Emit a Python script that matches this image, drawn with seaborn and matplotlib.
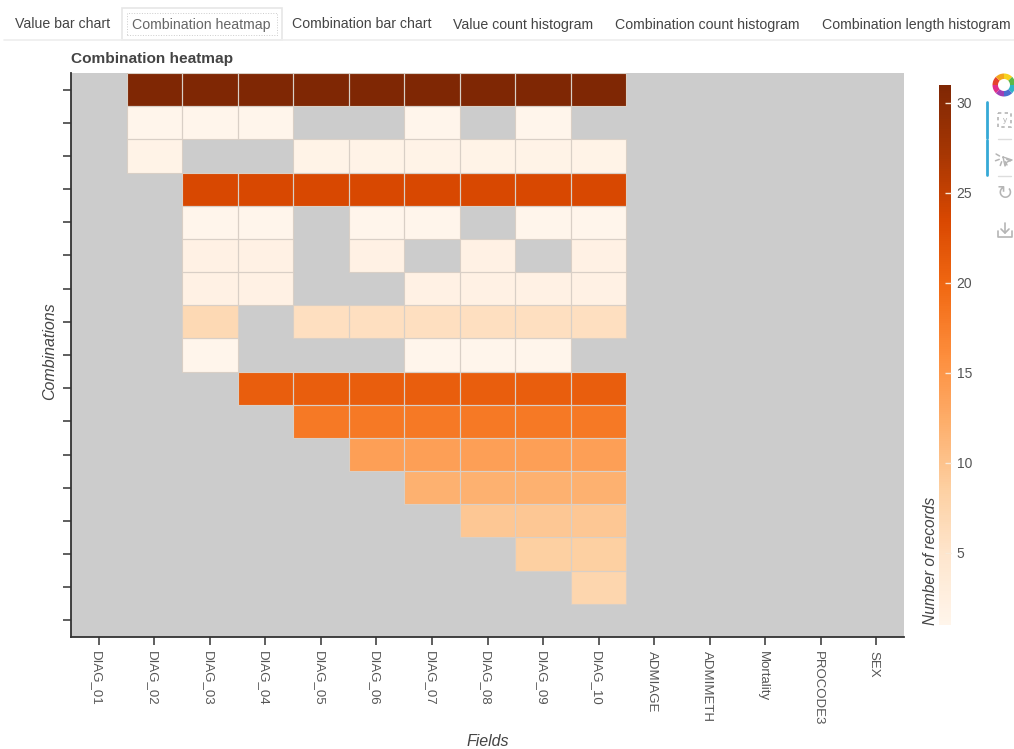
import numpy as np
import pandas as pd
import matplotlib
matplotlib.use('Agg')
import matplotlib.pyplot as plt
from matplotlib.patches import Rectangle, Wedge
from matplotlib.transforms import ScaledTranslation
import seaborn as sns

sns.set_theme(style='white')
plt.rcParams['font.family'] = ['Liberation Sans', 'DejaVu Sans']

# Tabs above the chart
tab_names = ['Value bar chart', 'Combination heatmap', 'Combination bar chart',
             'Value count histogram', 'Combination count histogram', 'Combination length histogram']
tab_x = [15, 132, 292, 453, 615, 822]

fields = ['DIAG_01', 'DIAG_02', 'DIAG_03', 'DIAG_04', 'DIAG_05', 'DIAG_06', 'DIAG_07', 'DIAG_08',
          'DIAG_09', 'DIAG_10', 'ADMIAGE', 'ADMIMETH', 'Mortality', 'PROCODE3', 'SEX']
n = np.nan

# Number of records per combination, one row per combination
row_00 = [n, 31, 31, 31, 31, 31, 31, 31, 31, 31, n, n, n, n, n]
row_01 = [n, 1, 1, 1, n, n, 1, n, 1, n, n, n, n, n, n]
row_02 = [n, 1.5, n, n, 1.5, 1.5, 1.5, 1.5, 1.5, 1.5, n, n, n, n, n]
row_03 = [n, n, 23.5, 23.5, 23.5, 23.5, 23.5, 23.5, 23.5, 23.5, n, n, n, n, n]
row_04 = [n, n, 1, 1, n, 1, 1, n, 1, 1, n, n, n, n, n]
row_05 = [n, n, 2, 2, n, 2, n, 2, n, 2, n, n, n, n, n]
row_06 = [n, n, 2, 2, n, n, 2, 2, 2, 2, n, n, n, n, n]
row_07 = [n, n, 7, n, 6, 6, 6, 6, 6, 6, n, n, n, n, n]
row_08 = [n, n, 1, n, n, n, 1, 1, 1, n, n, n, n, n, n]
row_09 = [n, n, n, 21, 21, 21, 21, 21, 21, 21, n, n, n, n, n]
row_10 = [n, n, n, n, 18, 18, 18, 18, 18, 18, n, n, n, n, n]
row_11 = [n, n, n, n, n, 14, 14, 14, 14, 14, n, n, n, n, n]
row_12 = [n, n, n, n, n, n, 12, 12, 12, 12, n, n, n, n, n]
row_13 = [n, n, n, n, n, n, n, 9.5, 9.5, 9.5, n, n, n, n, n]
row_14 = [n, n, n, n, n, n, n, n, 8.5, 8.5, n, n, n, n, n]
row_15 = [n, n, n, n, n, n, n, n, n, 7.5, n, n, n, n, n]
row_16 = [n] * 15

cbar_ticks = [5, 10, 15, 20, 25, 30]

combos = pd.DataFrame([row_00, row_01, row_02, row_03, row_04, row_05, row_06, row_07, row_08,
                       row_09, row_10, row_11, row_12, row_13, row_14, row_15, row_16],
                      columns=fields)

W, H = 1014, 749
fig = plt.figure(figsize=(W / 100, H / 100), dpi=100)


def box(x0, y0, x1, y1):
    # pixel box (y down) to figure fractions
    return [x0 / W, 1 - y1 / H, (x1 - x0) / W, (y1 - y0) / H]


ax = fig.add_axes(box(71, 73, 904, 637))
cax = fig.add_axes(box(939, 85, 951, 625))

ax.set_facecolor('#cccccc')
sns.heatmap(combos, ax=ax, cbar_ax=cax, cmap='Oranges', vmin=1, vmax=31,
            linewidths=0, mask=combos.isna(), cbar_kws={'ticks': cbar_ticks})

# cell outlines only on cells that hold a value
rows, cols = np.where(combos.notna().values)
for r, c in zip(rows, cols):
    ax.add_patch(Rectangle((c, r), 1, 1, fc='none', ec='#d9cfc6', lw=0.8))

ax.set_axisbelow(False)
cax.set_axisbelow(False)
ax.set_xticks(np.arange(15) + 0.5)
ax.set_xticklabels(fields, rotation=-90, fontsize=9.5, color='#555555')
ax.set_yticks(np.arange(17) + 0.5)
ax.set_yticklabels([])
ax.tick_params(axis='x', bottom=True, length=5.8, width=1.1, color='#333333', pad=4, direction='out')
ax.tick_params(axis='y', left=True, length=5.8, width=1.1, color='#333333', direction='out')
# has to come after tick_params, which resets the label transform
shift = ScaledTranslation(-2.5 / 100, 0, fig.dpi_scale_trans)
for lab in ax.get_xticklabels():
    lab.set_transform(lab.get_transform() + shift)
ax.set_xlabel('Fields', fontsize=11.5, style='italic', color='#444444')
ax.xaxis.set_label_coords(0.5, -(742 - 637) / 564)
ax.xaxis.label.set_verticalalignment('center')
ax.set_ylabel('Combinations', fontsize=11.5, style='italic', color='#444444')
ax.yaxis.set_label_coords((50 - 71) / 833, 0.506)
ax.yaxis.label.set_verticalalignment('center')
for side in ['top', 'right']:
    ax.spines[side].set_visible(False)
for side in ['left', 'bottom']:
    ax.spines[side].set_visible(True)
    ax.spines[side].set_color('#333333')
    ax.spines[side].set_linewidth(1.3)

cax.tick_params(axis='y', right=True, direction='in', length=4.5, width=1, color='#f8ead9',
                labelsize=10, labelcolor='#555555', pad=4)
cax.set_ylabel('Number of records', fontsize=11.2, style='italic', color='#444444')
cax.yaxis.set_label_position('left')
cax.yaxis.set_label_coords(-0.7, 0.0, transform=cax.transAxes)
cax.yaxis.label.set_verticalalignment('center')
cax.yaxis.label.set_horizontalalignment('left')
for s in cax.spines.values():
    s.set_visible(False)

fig.text(71 / W, 1 - 58.5 / H, 'Combination heatmap', fontsize=11.1, fontweight='bold',
         color='#444444', va='center')

# Tab bar
fig.add_artist(plt.Line2D([4 / W, 1], [1 - 40 / H] * 2, color='#eeeeee', lw=1.2))
fig.add_artist(Rectangle((122 / W, 1 - 40 / H), 160 / W, 32 / H, transform=fig.transFigure,
                         fc='white', ec='#e6e6e6', lw=1.2))
fig.add_artist(Rectangle((127 / W, 1 - 35 / H), 150 / W, 22 / H, transform=fig.transFigure,
                         fc='none', ec='#cccccc', lw=0.7, ls=':'))
for name, x in zip(tab_names, tab_x):
    fig.text(x / W, 1 - 24.5 / H, name, fontsize=10.2, va='center',
             color='#666666' if name == 'Combination heatmap' else '#444444')

# Toolbar on the right
tb = fig.add_axes([0, 0, 1, 1], facecolor='none')
tb.set_xlim(0, W)
tb.set_ylim(H, 0)
tb.axis('off')
ring = ['#e5432c', '#f4a51c', '#f7d21e', '#5cb947', '#2fb5c8', '#4b6fd0', '#a03fb5', '#e0308a']
for i, c in enumerate(ring):
    tb.add_patch(Wedge((1004, 85), 11.5, i * 45 + 180, i * 45 + 225, width=5.5, fc=c, ec='none'))
tb.plot([987, 987], [102, 137.5], color='#36a9d6', lw=2)
tb.plot([987, 987], [140, 175], color='#36a9d6', lw=2)
grey = '#b5b5b5'
tb.add_patch(Rectangle((998, 113), 13, 14, fc='none', ec=grey, lw=1.2, ls=(0, (2, 2))))
tb.text(1005, 121, 'y', fontsize=6, color=grey, ha='center', va='center')
tb.plot([998, 1011], [139, 139], color='#dddddd', lw=1)
for a in np.deg2rad([150, 200, 250, 300, 340]):
    tb.plot([1003 + 4 * np.cos(a), 1003 + 8 * np.cos(a)], [158 - 4 * np.sin(a), 158 - 8 * np.sin(a)],
            color=grey, lw=1.1)
tb.plot([1003, 1012, 1007, 1005, 1003], [157, 160, 162, 166, 157], color=grey, lw=1)
tb.plot([998, 1011], [176, 176], color='#dddddd', lw=1)
tb.text(1005, 194, '\u21bb', fontsize=14, color=grey, ha='center', va='center', family='DejaVu Sans')
tb.plot([998, 998, 1012, 1012], [231, 237, 237, 231], color=grey, lw=1.2)
tb.plot([1005, 1005], [223, 233], color=grey, lw=1.2)
tb.plot([1001, 1005, 1009], [229, 233, 229], color=grey, lw=1.2)

fig.savefig('out.png', dpi=100, facecolor='white')
